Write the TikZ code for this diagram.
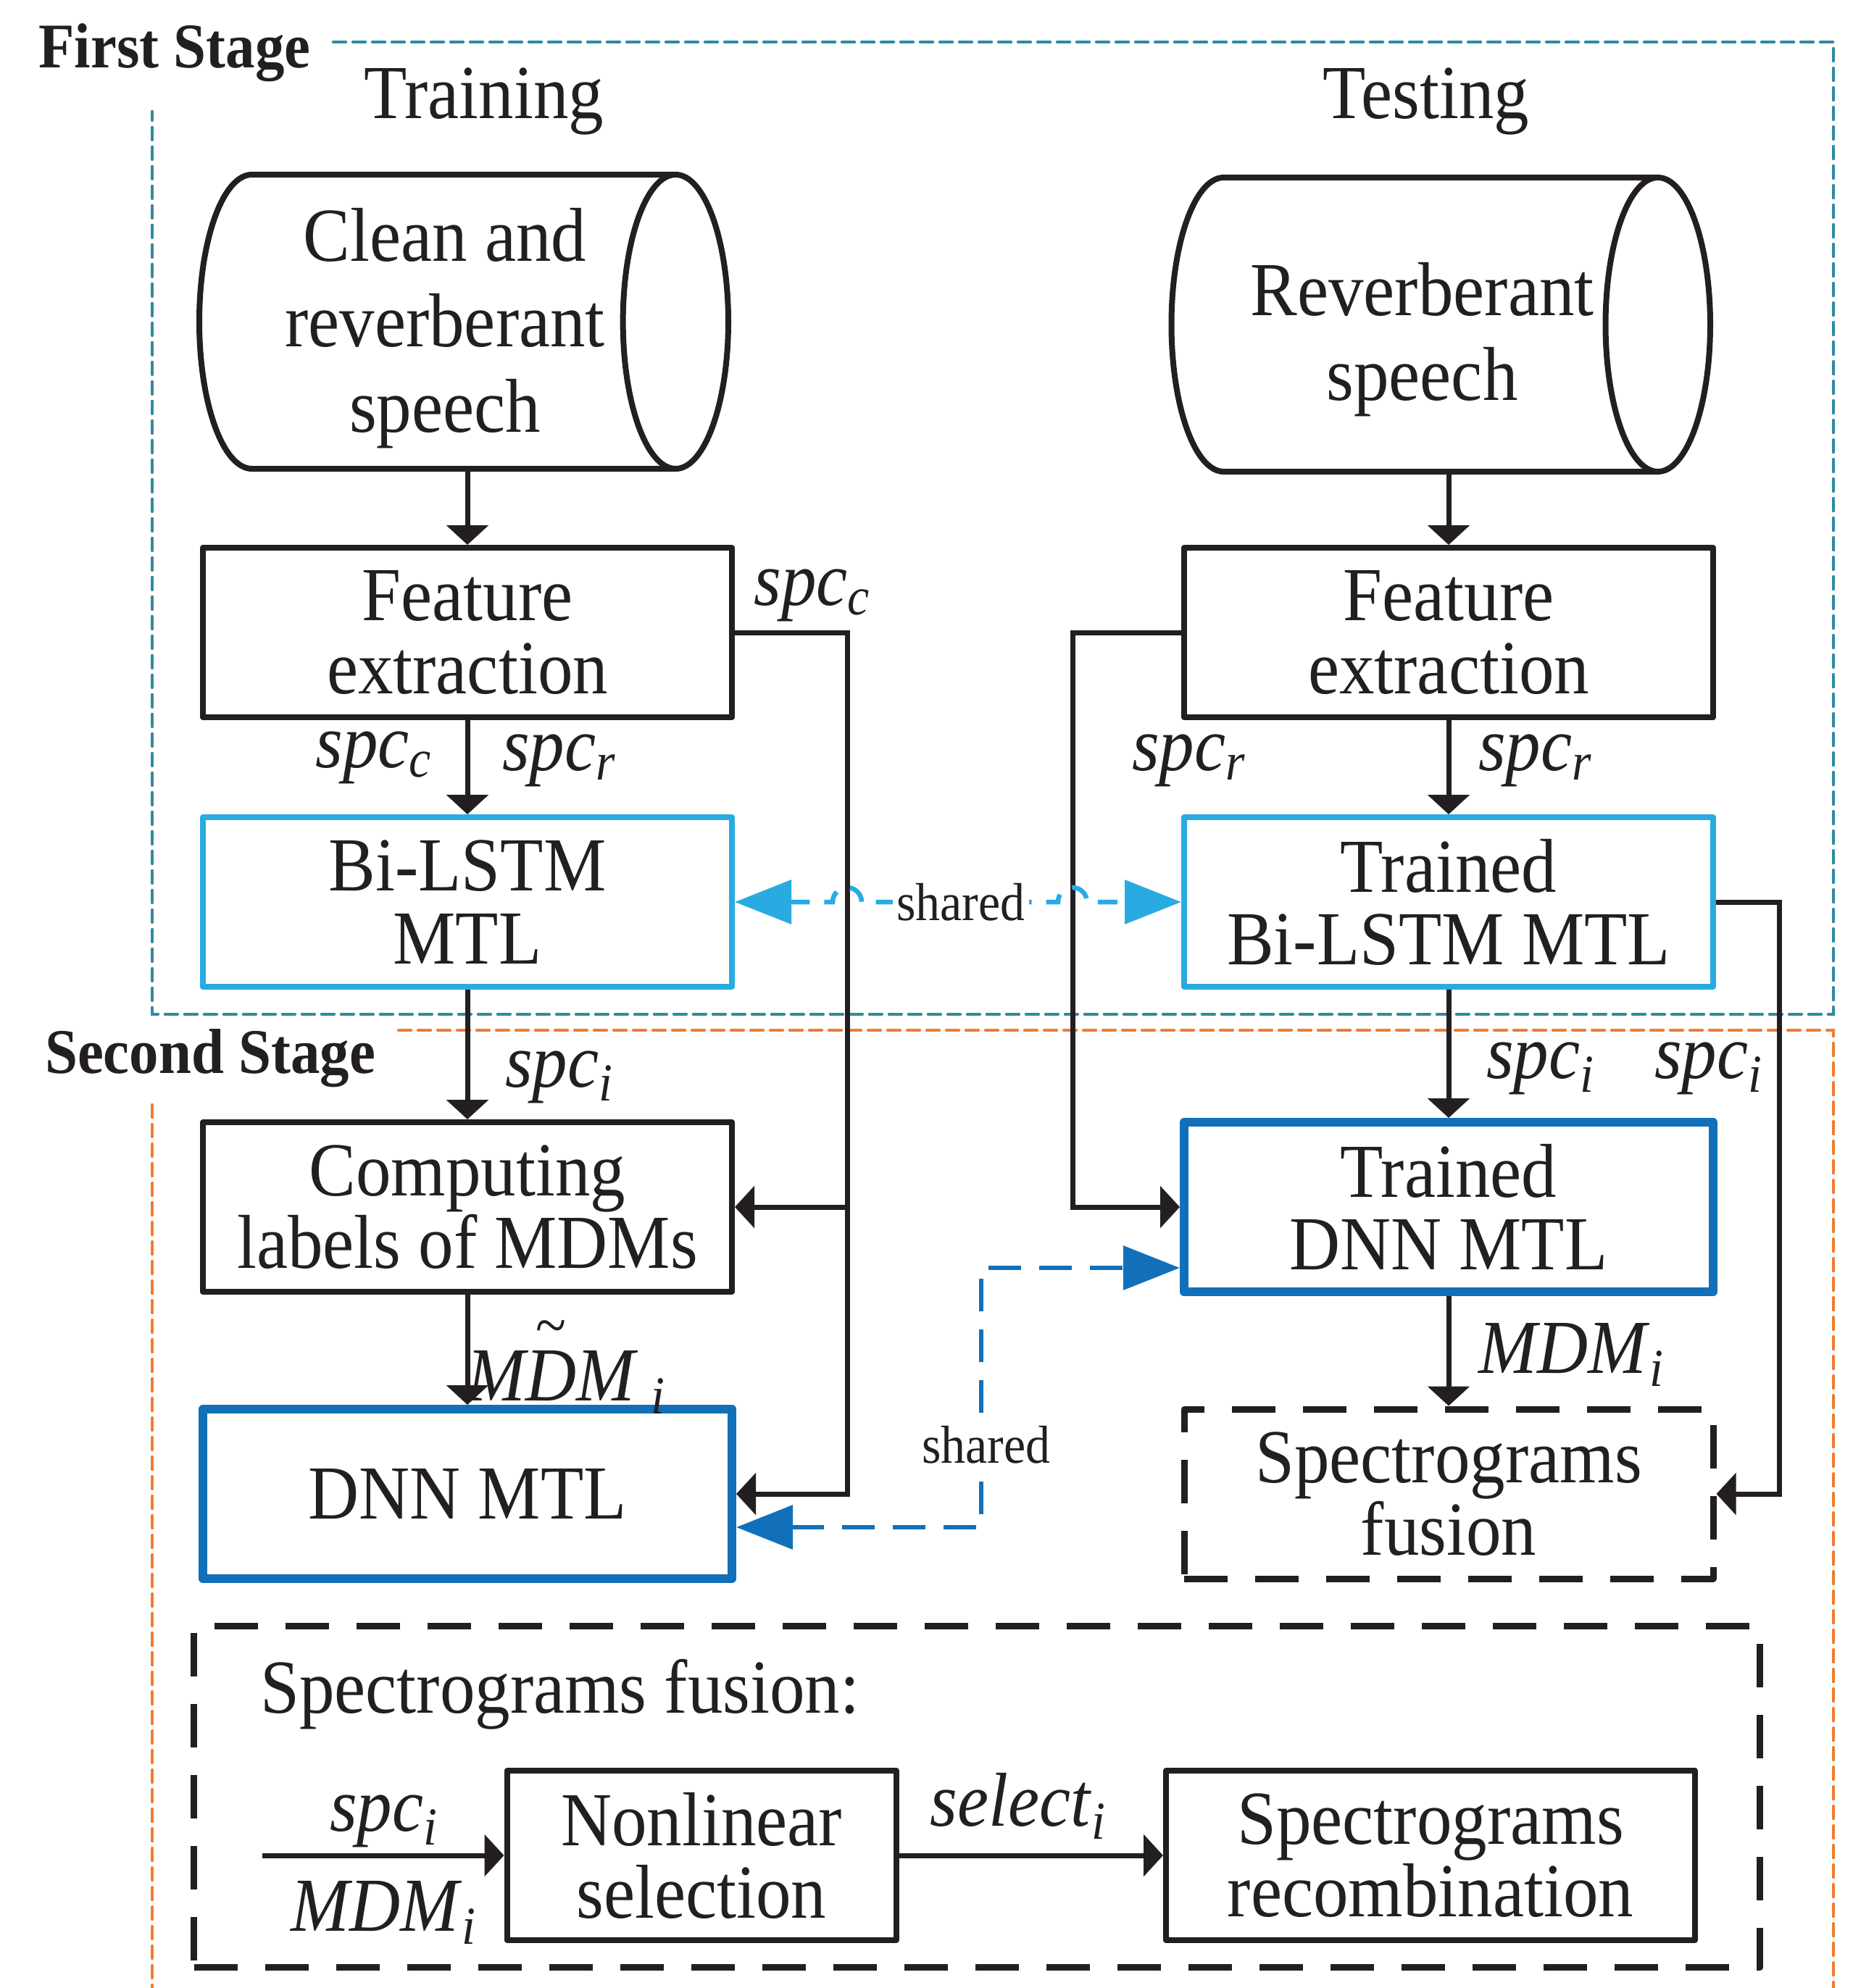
\documentclass[tikz,border=0pt]{standalone}
\usepackage{fontspec}
\setmainfont{Liberation Serif}[FakeStretch=0.92]
\usepackage{tikz}
\usetikzlibrary{shapes.geometric, arrows.meta, positioning, calc}

\definecolor{ink}{RGB}{35,31,32}
\definecolor{lstmblue}{RGB}{41,171,226}
\definecolor{dnnblue}{RGB}{17,112,185}
\definecolor{stageone}{RGB}{46,139,160}
\definecolor{stagetwo}{RGB}{237,125,49}

\newcommand{\sublab}[2]{\textit{#1}\textsubscript{\textit{#2}}}
\newcommand{\tildeover}[1]{\ooalign{#1\cr\hidewidth\raisebox{0.72em}{\fontsize{24}{24}\selectfont\upshape\textasciitilde}\hidewidth\cr}}
\newcommand{\cyl}{\hspace*{0.49cm}}

\begin{document}
\begin{tikzpicture}[
    box/.style={rectangle, draw=ink, line width=0.08cm, line join=round, minimum width=7.3cm, minimum height=2.34cm, align=center, text=ink, font=\fontsize{30}{28.5}\selectfont},
    lstmbox/.style={box, draw=lstmblue},
    dnnbox/.style={box, draw=dnnblue, line width=0.12cm},
    fusebox/.style={box, line width=0.09cm, dash pattern=on 0.6cm off 0.38cm},
    store/.style={cylinder, draw=ink, line width=0.08cm, minimum width=4.06cm, minimum height=7.3cm, anchor=east, align=center, text=ink, font=\fontsize{30}{33.5}\selectfont},
    head/.style={text=ink, font=\fontsize{30}{30}\selectfont},
    stagelabel/.style={text=ink, font=\fontsize{25}{25}\selectfont\bfseries},
    lbl/.style={text=ink, inner sep=1pt, font=\fontsize{30}{30}\selectfont},
    sharelbl/.style={text=ink, fill=white, inner sep=1.5pt, font=\fontsize{21}{21}\selectfont},
    arrow/.style={draw=ink, line width=0.07cm, -{Triangle[length=0.27cm, width=0.57cm]}},
    shared/.style={line width=0.065cm, dash pattern=on 0.27cm off 0.2cm, {Triangle[length=0.78cm, width=0.6cm]}-{Triangle[length=0.78cm, width=0.6cm]}},
    stage/.style={line width=0.045cm, line cap=round, dash pattern=on 0.17cm off 0.1cm}
]
\useasboundingbox (0,0) rectangle (25.56,-27.44);

% Stage frames
\draw[stage, draw=stageone] (4.60,-0.58) -- (25.30,-0.58) -- (25.30,-14.0) -- (2.10,-14.0) -- (2.10,-1.54);
\draw[stage, draw=stagetwo] (5.50,-14.22) -- (25.30,-14.22) -- (25.30,-27.6);
\draw[stage, draw=stagetwo] (2.10,-15.25) -- (2.10,-27.6);
\node[stagelabel] (first) at (2.41,-0.73) {First Stage};
\node[stagelabel] (second) at (2.90,-14.61) {Second Stage};

% Headings
\node[head] (train) at (6.68,-1.40) {Training};
\node[head] (test) at (19.68,-1.40) {Testing};

% Databases
\node[store, aspect=0.39] (clean) at (10.09,-4.44) {\rule{0pt}{26pt}\cyl Clean and\\\cyl reverberant\\\cyl speech};
\node[store, aspect=0.52, inner xsep=0.12cm] (reverb) at (23.64,-4.48) {\rule{0pt}{32.5pt}\cyl Reverberant\\\cyl speech};

% Training column
\node[box] (fe1) at (6.45,-8.73) {Feature\\extraction};
\node[lstmbox] (bl) at (6.45,-12.45) {Bi-LSTM\\MTL};
\node[box] (comp) at (6.45,-16.66) {Computing\\labels of MDMs};
\node[dnnbox] (dnn) at (6.45,-20.62) {DNN MTL};

% Testing column
\node[box] (fe2) at (19.99,-8.73) {Feature\\extraction};
\node[lstmbox] (tbl) at (19.99,-12.45) {Trained\\Bi-LSTM MTL};
\node[dnnbox] (tdnn) at (19.99,-16.66) {Trained\\DNN MTL};
\node[fusebox] (fus) at (19.99,-20.62) {Spectrograms\\fusion};

% Fusion detail
\node[fusebox, minimum width=21.61cm, minimum height=4.71cm] (panel) at (13.48,-24.80) {};
\node[lbl, anchor=west] (paneltitle) at (3.55,-23.39) {Spectrograms fusion:};
\node[box, minimum width=5.37cm] (nls) at (9.68,-25.61) {Nonlinear\\selection};
\node[box] (recomb) at (19.74,-25.61) {Spectrograms\\recombination};

% Junctions
\coordinate (jc) at (11.69,-8.73);
\coordinate (jt) at (14.80,-8.73);
\coordinate (jf) at (24.55,-12.45);
\coordinate (js) at (13.54,-17.50);
\coordinate (fin) at (3.62,-25.61);

% Connections
\draw[arrow] (fe1.north |- clean.south) -- (fe1.north);
\draw[arrow] (fe2.north |- reverb.south) -- (fe2.north);
\draw[arrow] (fe1) -- (bl);
\draw[arrow] (fe2) -- (tbl);
\draw[arrow] (bl) -- (comp);
\draw[arrow] (tbl) -- (tdnn);
\draw[arrow] (comp) -- (dnn);
\draw[arrow] (tdnn) -- (fus);
\draw[arrow] (fe1.east) -- (jc) |- (dnn.east);
\draw[arrow] (jc |- comp.east) -- (comp.east);
\draw[arrow] (fe2.west) -- (jt) |- (tdnn.west);
\draw[arrow] (tbl.east) -- (jf) |- (fus.east);
\draw[arrow] (fin) -- (nls);
\draw[arrow] (nls) -- (recomb);

% Shared weights
\draw[shared, draw=lstmblue] (bl.east) -- (11.49,-12.45) arc[start angle=180, end angle=0, radius=0.2cm] -- (14.60,-12.45) arc[start angle=180, end angle=0, radius=0.2cm] -- (tbl.west);
\draw[shared, draw=dnnblue, dash pattern=on 0.45cm off 0.25cm] ([yshift=-0.46cm]dnn.east) -| (js) -- (js -| tdnn.west);
\node[sharelbl] (sh1) at (13.26,-12.45) {shared};
\node[sharelbl] (sh2) at (13.61,-19.94) {shared};

% Labels
\node[lbl] (lab1) at (11.21,-8.22) {\sublab{spc}{c}};
\node[lbl] (lab2) at (5.16,-10.46) {\sublab{spc}{c}};
\node[lbl] (lab3) at (7.72,-10.50) {\sublab{spc}{r}};
\node[lbl] (lab4) at (16.41,-10.50) {\sublab{spc}{r}};
\node[lbl] (lab5) at (21.19,-10.50) {\sublab{spc}{r}};
\node[lbl] (lab6) at (7.72,-14.87) {\sublab{spc}{i}};
\node[lbl] (lab7) at (21.26,-14.75) {\sublab{spc}{i}};
\node[lbl] (lab8) at (23.58,-14.75) {\sublab{spc}{i}};
\node[lbl, anchor=base] (lab9) at (7.82,-19.33) {\textit{M\tildeover{D}M}\,\textsubscript{\textit{i}}};
\node[lbl] (lab10) at (21.69,-18.70) {\sublab{MDM}{i}};
\node[lbl] (lab11) at (5.30,-25.14) {\sublab{spc}{i}};
\node[lbl] (lab12) at (5.30,-26.40) {\sublab{MDM}{i}};
\node[lbl] (lab13) at (14.05,-24.93) {\sublab{select}{i}};
\end{tikzpicture}
\end{document}
